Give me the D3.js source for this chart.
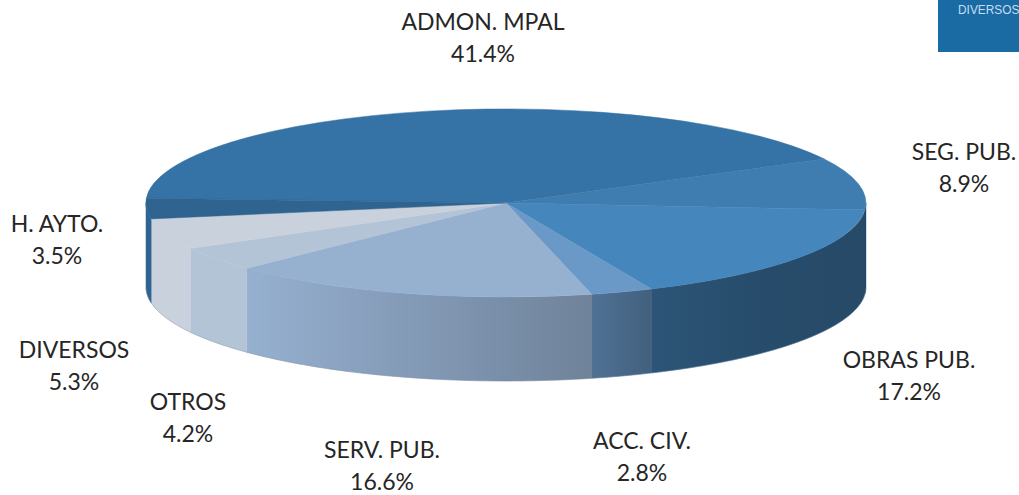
<!DOCTYPE html>
<html lang="en">
<head>
    <meta charset="UTF-8">
    <title>Pie</title>
    <script src="https://d3js.org/d3.v7.min.js"></script>
    <style>
        html, body { margin: 0; padding: 0; background: #fff; overflow: hidden; }
        svg { display: block; }
        .label { font-family: Lato, sans-serif; font-size: 23px; fill: #262626; text-anchor: middle; }
        .legend { font-family: "Liberation Sans", sans-serif; font-size: 11.9px; fill: #c6def2; }
    </style>
</head>
<body>
    <svg id="chart" width="1019" height="495"></svg>
    <script>
        // values, clockwise from the left edge
        const categories = ["ADMON. MPAL", "SEG. PUB.", "OBRAS PUB.", "ACC. CIV.", "SERV. PUB.", "OTROS", "DIVERSOS", "H. AYTO."];
        const shares = [41.4, 8.9, 17.2, 2.8, 16.6, 4.2, 5.3, 3.5];
        const colors = ["#3572a5", "#3f7cb0", "#4586bc", "#6a99c8", "#96b0d0", "#b3c4d6", "#c8d1dc", "#2f6490"];
        const legendLabel = "DIVERSOS";

        // label anchors, same order as categories
        const labelX = [483, 964, 909, 642, 382, 188, 74, 57];
        const labelY = [30, 160, 368, 449, 458, 410, 358, 232];

        const width = 1019, height = 495;
        const cx = 506, cy = 203, rx = 360, ry = 94, depth = 84;
        const startDeg = 272.9;
        const lo = Math.PI / 2, hi = Math.PI * 1.5;

        const svg = d3.select("#chart");
        const defs = svg.append("defs");

        // the wall darkens towards the right
        const shade = defs.append("linearGradient")
            .attr("id", "wallShade")
            .attr("gradientUnits", "userSpaceOnUse")
            .attr("x1", 146).attr("x2", 866).attr("y1", 0).attr("y2", 0);
        [[0.14, 0], [0.62, 0.26], [0.70, 0.37], [0.85, 0.43], [1, 0.45]].forEach(s => {
            shade.append("stop").attr("offset", s[0]).attr("stop-color", "#000").attr("stop-opacity", s[1]);
        });

        const pie = d3.pie().sort(null)
            .startAngle(startDeg * Math.PI / 180)
            .endAngle((startDeg + 360) * Math.PI / 180);
        const slices = pie(shares);

        const px = a => cx + rx * Math.sin(a);
        const py = a => cy - ry * Math.cos(a);

        const line = d3.line();
        function band(a0, a1) {
            const steps = d3.range(0, 61).map(i => a0 + (a1 - a0) * i / 60);
            const pts = steps.map(a => [px(a), py(a)])
                .concat(steps.slice().reverse().map(a => [px(a), py(a) + depth]));
            return line(pts) + "Z";
        }

        // side wall of one slice, front half of the ellipse only
        function wallPath(d) {
            let paths = "";
            [-1, 0, 1].forEach(k => {
                const a0 = Math.max(d.startAngle + k * 2 * Math.PI, lo);
                const a1 = Math.min(d.endAngle + k * 2 * Math.PI, hi);
                if (a1 > a0) paths += band(a0, a1);
            });
            return paths;
        }

        svg.append("g").selectAll("path")
            .data(slices)
            .join("path")
            .attr("d", wallPath)
            .attr("fill", (d, i) => colors[i])
            .attr("stroke", (d, i) => colors[i])
            .attr("stroke-width", 0.5);

        // one shade over the whole wall so no seams show
        svg.append("path")
            .attr("d", band(lo, hi))
            .attr("fill", "url(#wallShade)");

        // soft grey edge under the wall
        svg.append("path")
            .attr("d", line(d3.range(0, 121).map(i => {
                const a = lo + Math.PI * i / 120;
                return [px(a), py(a) + depth];
            })))
            .attr("fill", "none")
            .attr("stroke", "#7f8a99")
            .attr("stroke-opacity", 0.45)
            .attr("stroke-width", 0.8);

        // top face: unit arcs squashed into the ellipse
        const arc = d3.arc().innerRadius(0).outerRadius(1);
        svg.append("g")
            .attr("transform", `translate(${cx},${cy}) scale(${rx},${ry})`)
            .selectAll("path")
            .data(slices)
            .join("path")
            .attr("d", arc)
            .attr("fill", (d, i) => colors[i])
            .attr("stroke", (d, i) => colors[i])
            .attr("stroke-width", 0.5)
            .attr("vector-effect", "non-scaling-stroke");

        // labels
        const labels = svg.append("g").selectAll("text")
            .data(categories)
            .join("text")
            .attr("class", "label");
        labels.append("tspan")
            .attr("x", (d, i) => labelX[i])
            .attr("y", (d, i) => labelY[i])
            .text(d => d);
        labels.append("tspan")
            .attr("x", (d, i) => labelX[i])
            .attr("y", (d, i) => labelY[i] + 32)
            .text((d, i) => shares[i].toFixed(1) + "%");

        // clipped legend swatch top right
        svg.append("rect")
            .attr("x", 938).attr("y", 0)
            .attr("width", 81).attr("height", 52)
            .attr("fill", "#1a6aa3");
        svg.append("text")
            .attr("class", "legend")
            .attr("x", 958).attr("y", 14)
            .text(legendLabel);
    </script>
</body>
</html>
